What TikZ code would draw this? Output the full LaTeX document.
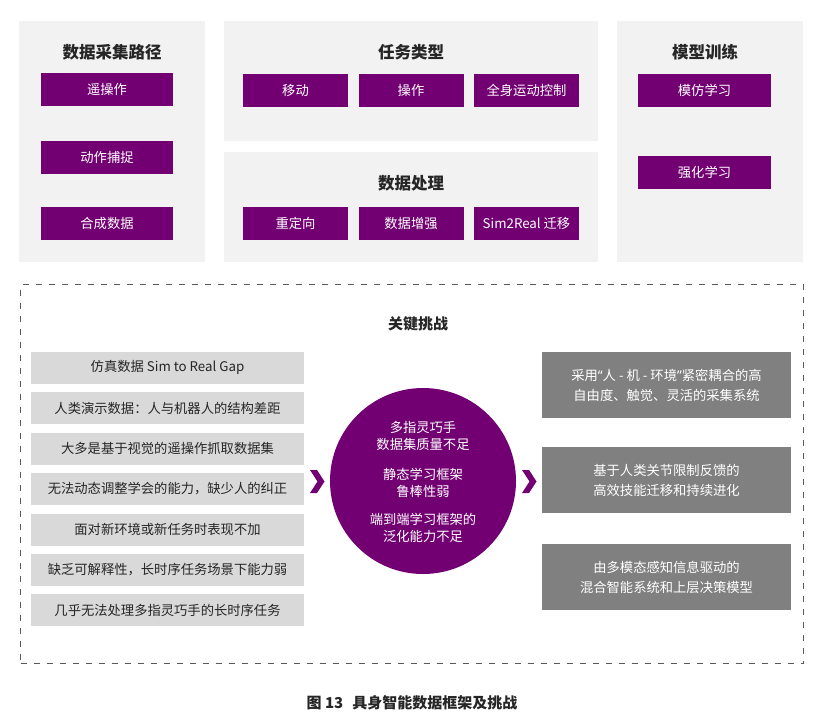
\documentclass[tikz,border=0pt]{standalone}
\usepackage{fontspec}
\setmainfont{Noto Sans CJK SC}
\newfontfamily\latinq{Noto Sans}
\definecolor{purp}{HTML}{720072}
\definecolor{panelc}{HTML}{F2F2F2}
\definecolor{lgray}{HTML}{D9D9D9}
\definecolor{dgray}{HTML}{808080}
\definecolor{txt}{HTML}{262626}
\definecolor{framec}{HTML}{595959}
\begin{document}
\begin{tikzpicture}[x=1pt,y=-1pt,
  panelbox/.style={fill=panelc, draw=none, inner sep=0pt, anchor=north west},
  ptitle/.style={font=\fontsize{16.5}{19}\selectfont\bfseries, text=txt, inner sep=0pt},
  pbtn/.style={fill=purp, text=white, minimum height=33pt, inner sep=0pt, font=\fontsize{13.3}{15}\selectfont},
  gbox/.style={fill=lgray, text=txt, minimum width=273pt, minimum height=32pt, inner sep=0pt, font=\fontsize{13.3}{15}\selectfont},
  dbox/.style={fill=dgray, text=white, minimum width=249pt, minimum height=66pt, inner sep=0pt, align=center, font=\fontsize{13.3}{20}\selectfont},
  chev/.style={fill=purp, draw=none}
]
\useasboundingbox[fill=white] (0,0) rectangle (834,720);

% top panels
\node[panelbox, minimum width=186pt, minimum height=241pt] (p1) at (19,21) {};
\node[panelbox, minimum width=374pt, minimum height=120pt] (p2) at (224,21) {};
\node[panelbox, minimum width=374pt, minimum height=110pt] (p3) at (224,152) {};
\node[panelbox, minimum width=186pt, minimum height=241pt] (p4) at (617,21) {};

\node[ptitle] (t1) at (112,52) {数据采集路径};
\node[ptitle] (t2) at (411,52) {任务类型};
\node[ptitle] (t3) at (411,183) {数据处理};
\node[ptitle] (t4) at (705,52) {模型训练};

\node[pbtn, minimum width=132pt] (b11) at (107,89.5) {遥操作};
\node[pbtn, minimum width=132pt] (b12) at (107,157) {动作捕捉};
\node[pbtn, minimum width=132pt] (b13) at (107,223.5) {合成数据};

\node[pbtn, minimum width=105pt] (b21) at (295.5,90.5) {移动};
\node[pbtn, minimum width=105pt] (b22) at (411,90.5) {操作};
\node[pbtn, minimum width=105pt] (b23) at (526.5,90.5) {全身运动控制};

\node[pbtn, minimum width=105pt] (b31) at (295.5,223.5) {重定向};
\node[pbtn, minimum width=105pt] (b32) at (411,223.5) {数据增强};
\node[pbtn, minimum width=105pt] (b33) at (526.5,223.5) {Sim2Real 迁移};

\node[pbtn, minimum width=133pt] (b41) at (704.5,90.5) {模仿学习};
\node[pbtn, minimum width=133pt] (b42) at (704.5,172.5) {强化学习};

% key challenges frame
\node[draw=framec, line width=1.1pt, dash pattern=on 6pt off 7pt, minimum width=783pt, minimum height=379pt, inner sep=0pt, anchor=north west] (frame) at (20,284) {};
\node[font=\fontsize{15}{18}\selectfont\bfseries, text=txt, inner sep=0pt] (kt) at (418,324) {关键挑战};

\node[gbox] (g1) at (167.5,367.5) {仿真数据 Sim to Real Gap};
\node[gbox] (g2) at (167.5,408) {人类演示数据：人与机器人的结构差距};
\node[gbox] (g3) at (167.5,448.5) {大多是基于视觉的遥操作抓取数据集};
\node[gbox] (g4) at (167.5,489) {无法动态调整学会的能力，缺少人的纠正};
\node[gbox] (g5) at (167.5,529.5) {面对新环境或新任务时表现不加};
\node[gbox] (g6) at (167.5,569.5) {缺乏可解释性，长时序任务场景下能力弱};
\node[gbox] (g7) at (167.5,610) {几乎无法处理多指灵巧手的长时序任务};

\node[circle, fill=purp, minimum size=186pt, inner sep=0pt] (circ) at (423,481) {};
\node[text=white, align=center, font=\fontsize{13.3}{17}\selectfont, inner sep=0pt] (c1) at (423,435.5) {多指灵巧手\\数据集质量不足};
\node[text=white, align=center, font=\fontsize{13.3}{17}\selectfont, inner sep=0pt] (c2) at (423,482.5) {静态学习框架\\鲁棒性弱};
\node[text=white, align=center, font=\fontsize{13.3}{17}\selectfont, inner sep=0pt] (c3) at (423,528) {端到端学习框架的\\泛化能力不足};

\fill[chev] (310,470) -- (317,470) -- (324.5,481.5) -- (317,493) -- (310,493) -- (317.5,481.5) -- cycle;
\fill[chev] (522,470) -- (529,470) -- (536.5,481.5) -- (529,493) -- (522,493) -- (529.5,481.5) -- cycle;

\node[dbox] (d1) at (666.5,385) {采用{\latinq “}人 - 机 - 环境{\latinq ”}紧密耦合的高\\自由度、触觉、灵活的采集系统};
\node[dbox] (d2) at (666.5,480) {基于人类关节限制反馈的\\高效技能迁移和持续进化};
\node[dbox] (d3) at (666.5,577) {由多模态感知信息驱动的\\混合智能系统和上层决策模型};

\node[font=\fontsize{15}{18}\selectfont\bfseries, text=txt, inner sep=0pt] (cap) at (412,703) {图 13\hspace{9pt}具身智能数据框架及挑战};
\end{tikzpicture}
\end{document}
